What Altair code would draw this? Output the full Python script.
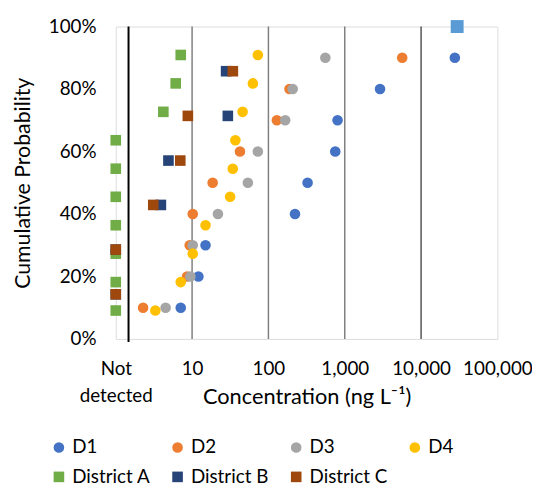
import altair as alt
import pandas as pd

# ---- data ----
series_names = ["D1", "D2", "D3", "D4", "District A", "District B", "District C"]
series_colors = ["#4472C4", "#ED7D31", "#A5A5A5", "#FFC000", "#70AD47", "#264478", "#9E480E"]

y_nine = [0.1, 0.2, 0.3, 0.4, 0.5, 0.6, 0.7, 0.8, 0.9]
y_ten = [0.091, 0.182, 0.273, 0.364, 0.455, 0.545, 0.636, 0.727, 0.818, 0.909]
y_six = [0.143, 0.286, 0.429, 0.571, 0.714, 0.857]

d1_x = [7.1, 12.1, 15.0, 223, 326, 751, 805, 2900, 27700]
d2_x = [2.28, 8.6, 9.3, 10.2, 18.6, 42.4, 129, 189, 5660]
d3_x = [4.5, 9.5, 10.2, 21.8, 53.8, 72.7, 166, 208, 557]
d4_x = [3.3, 7.1, 10.2, 15.0, 31.5, 34.1, 36.9, 45.9, 62.6, 72.7]
# value 1 = "Not detected"
a_x = [1, 1, 1, 1, 1, 1, 1, 4.2, 6.1, 7.1]
b_x = [1, 1, 3.9, 4.9, 29.4, 27.9]
c_x = [1, 1, 3.1, 7.0, 8.8, 34.2]

max_x = [29700]
max_y = [1.0]

grid_gray = [10, 100, 1000]
grid_black = [10000]
nd_separator = [1.47]

x_ticks = [1, 10, 100, 1000, 10000, 100000]
y_ticks = [0, 0.2, 0.4, 0.6, 0.8, 1.0]

rows = []
for name, xs, ys in [("D1", d1_x, y_nine), ("D2", d2_x, y_nine), ("D3", d3_x, y_nine),
                     ("D4", d4_x, y_ten), ("District A", a_x, y_ten),
                     ("District B", b_x, y_six), ("District C", c_x, y_six)]:
    for xv, yv in zip(xs, ys):
        rows.append({"series": name, "x": xv, "y": yv})
df = pd.DataFrame(rows)

FONT = "Lato"

xscale = alt.Scale(type="log", domain=[1, 100000], nice=False)
yscale = alt.Scale(domain=[0, 1], nice=False)

legend = alt.Legend(title=None, orient="none", direction="horizontal", legendX=-67, legendY=416,
                    columns=4, columnPadding=18, rowPadding=10, labelFont=FONT, labelFontSize=19,
                    labelColor="black", symbolSize=110, symbolOpacity=1, labelLimit=200)

points = alt.Chart(df).mark_point(filled=True, opacity=1).encode(
    x=alt.X("x:Q", scale=xscale, axis=alt.Axis(
        values=x_ticks,
        labelExpr="datum.value == 1 ? ['Not','detected'] : format(datum.value, ',')",
        grid=False, ticks=False, domain=False, labelFlush=False, labelOverlap=False,
        labelPadding=21, labelFont=FONT, labelFontSize=19, labelColor="black",
        labelLineHeight=27,
        title="Concentration (ng L⁻¹)", titleFont=FONT, titleFontSize=22,
        titleFontWeight="normal", titleColor="black", titleY=48, titleBaseline="top")),
    y=alt.Y("y:Q", scale=yscale, axis=alt.Axis(
        values=y_ticks, format=".0%", grid=False, ticks=False, domain=False,
        labelPadding=20, labelFont=FONT, labelFontSize=19, labelColor="black",
        title="Cumulative Probability", titleFont=FONT, titleFontSize=21.5,
        titleFontWeight="normal", titleColor="black", titleX=-93, titleY=158,
        titleBaseline="middle")),
    color=alt.Color("series:N", scale=alt.Scale(domain=series_names, range=series_colors),
                    legend=legend, sort=series_names),
    shape=alt.Shape("series:N", scale=alt.Scale(domain=series_names,
                    range=["circle"] * 4 + ["square"] * 3), legend=legend, sort=series_names),
    size=alt.Size("series:N", scale=alt.Scale(domain=series_names,
                  range=[115] * 4 + [170] * 3), legend=None),
)

grid1 = alt.Chart(pd.DataFrame({"x": grid_gray})).mark_rule(color="#808080", strokeWidth=1.5).encode(
    x=alt.X("x:Q", scale=xscale))
grid2 = alt.Chart(pd.DataFrame({"x": grid_black})).mark_rule(color="black", strokeWidth=1).encode(
    x=alt.X("x:Q", scale=xscale))
sep = alt.Chart(pd.DataFrame({"x": nd_separator})).mark_rule(color="black", strokeWidth=2).encode(
    x=alt.X("x:Q", scale=xscale), y=alt.value(0), y2=alt.value(319))

maxpt = alt.Chart(pd.DataFrame({"x": max_x, "y": max_y})).mark_point(
    filled=True, opacity=1, shape="square", size=170, color="#5B9BD5").encode(
    x=alt.X("x:Q", scale=xscale), y=alt.Y("y:Q", scale=yscale))

chart = alt.layer(grid1, grid2, sep, points, maxpt).properties(
    width=386, height=316,
    padding={"left": 109, "top": 16, "right": 35, "bottom": 148},
    autosize=alt.AutoSizeParams(type="none"),
).configure_view(stroke="black", strokeWidth=1.5).configure(background="white")

chart.save("out.html", embed_options={"renderer": "svg", "actions": False})
